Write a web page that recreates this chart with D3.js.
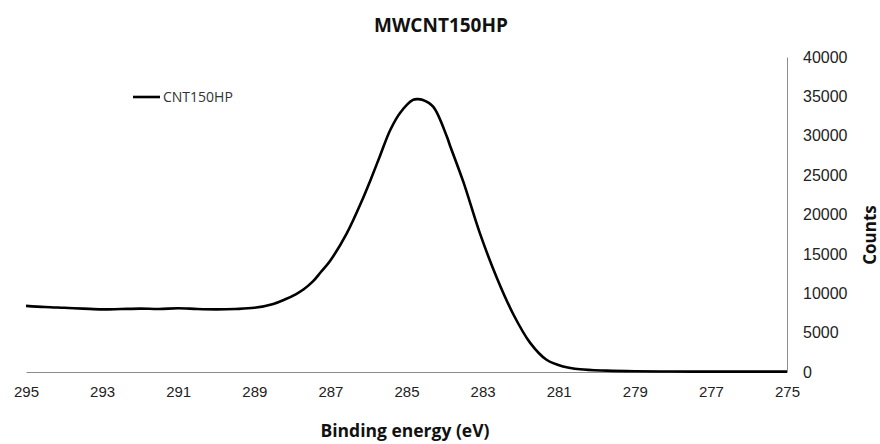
<!DOCTYPE html>
<html>
<head>
<meta charset="utf-8">
<script src="https://cdn.jsdelivr.net/npm/d3@7/dist/d3.min.js"></script>
<style>
  body { margin: 0; background: #fff; }
  svg { display: block; }
</style>
</head>
<body>
<div id="chart"><svg width="880" height="444"></svg></div>
<script>
// binding energy (eV) and counts
const energy = [295.0, 294.5, 294.0, 293.5, 293.0, 292.5, 292.0, 291.5, 291.0, 290.5,
    290.0, 289.5, 289.0, 288.5, 288.2, 287.9, 287.7, 287.46, 287.25, 287.01,
    286.57, 286.14, 285.96, 285.7, 285.43, 285.17, 284.83, 284.7, 284.57, 284.3,
    283.94, 283.86, 283.51, 283.07, 282.63, 282.19, 281.75, 281.32, 280.88, 280.44,
    279.74, 279.0, 278.0, 277.0, 276.0, 275.0];
const counts = [8400, 8250, 8150, 8050, 7950, 8000, 8050, 8000, 8100, 8000,
    7950, 8000, 8150, 8650, 9200, 9900, 10500, 11500, 12700, 14100,
    17600, 22100, 24200, 27400, 30700, 32900, 34550, 34650, 34550, 33700,
    29900, 28800, 24200, 17600, 12000, 7300, 3700, 1550, 700, 340,
    170, 90, 60, 50, 50, 50];
const xTicks = [295, 293, 291, 289, 287, 285, 283, 281, 279, 277, 275];
const yTicks = [0, 5000, 10000, 15000, 20000, 25000, 30000, 35000, 40000];
const seriesName = "CNT150HP";

const svg = d3.select("#chart").select("svg");
const plot = { left: 26, right: 787, top: 57, bottom: 372 };

const x = d3.scaleLinear().domain([295, 275]).range([plot.left, plot.right]);
const y = d3.scaleLinear().domain([0, 40000]).range([plot.bottom, plot.top]);

const xAxis = svg.append("g")
    .attr("transform", `translate(0,${plot.bottom})`)
    .call(d3.axisBottom(x).tickValues(xTicks).tickSize(0).tickPadding(14).tickFormat(d3.format("d")));
xAxis.select(".domain").attr("stroke", "#8c8c8c");
xAxis.selectAll("text").attr("font-family", "Liberation Sans, Arial, sans-serif").attr("font-size", "15px").attr("fill", "#222");

const yAxis = svg.append("g")
    .attr("transform", `translate(${plot.right},0)`)
    .call(d3.axisRight(y).tickValues(yTicks).tickSize(0).tickPadding(16).tickFormat(d3.format("d")));
yAxis.select(".domain").attr("stroke", "#8c8c8c");
yAxis.selectAll("text").attr("font-family", "Liberation Sans, Arial, sans-serif").attr("font-size", "16px").attr("fill", "#222");

const points = energy.map((e, i) => [e, counts[i]]);
const line = d3.line()
    .x(d => x(d[0]))
    .y(d => y(d[1]))
    .curve(d3.curveCatmullRom.alpha(0.5));

svg.append("path")
    .datum(points)
    .attr("d", line)
    .attr("fill", "none")
    .attr("stroke", "#000")
    .attr("stroke-width", 2.6)
    .attr("stroke-linejoin", "round");

// legend
svg.append("line")
    .attr("x1", 133).attr("x2", 160)
    .attr("y1", 97).attr("y2", 97)
    .attr("stroke", "#000").attr("stroke-width", 2.6);
svg.append("text")
    .attr("x", 163).attr("y", 102)
    .attr("font-family", "Open Sans, sans-serif")
    .attr("font-size", "14px")
    .attr("fill", "#333")
    .text(seriesName);

// titles
svg.append("text")
    .attr("x", 441).attr("y", 32)
    .attr("text-anchor", "middle")
    .attr("font-family", "Open Sans, sans-serif")
    .attr("font-weight", "bold")
    .attr("font-size", "19px")
    .attr("fill", "#111")
    .text("MWCNT150HP");

svg.append("text")
    .attr("x", 405).attr("y", 437)
    .attr("text-anchor", "middle")
    .attr("font-family", "Open Sans, sans-serif")
    .attr("font-weight", "bold")
    .attr("font-size", "17.5px")
    .attr("fill", "#111")
    .text("Binding energy (eV)");

svg.append("text")
    .attr("transform", "translate(876,235) rotate(-90)")
    .attr("text-anchor", "middle")
    .attr("font-family", "Open Sans, sans-serif")
    .attr("font-weight", "bold")
    .attr("font-size", "17px")
    .attr("fill", "#111")
    .text("Counts");
</script>
</body>
</html>
